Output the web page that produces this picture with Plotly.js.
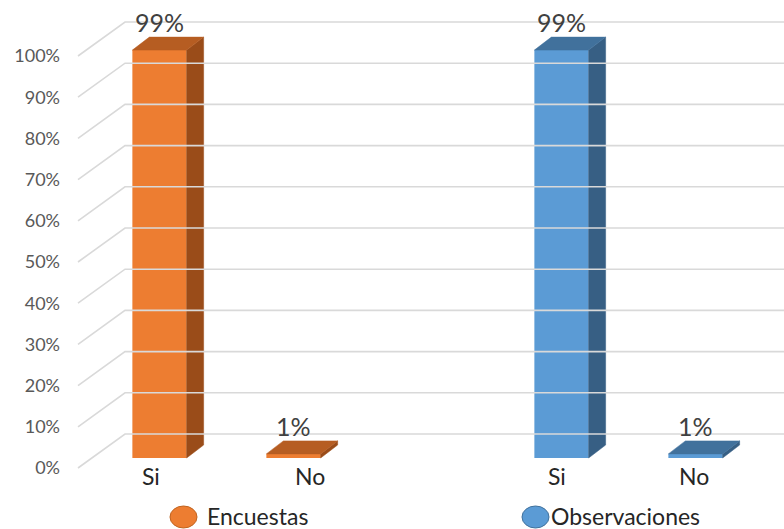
<!DOCTYPE html>
<html>
<head>
<meta charset="utf-8">
<script src="https://cdn.plot.ly/plotly-3.0.1.min.js"></script>
<style>
  html, body { margin: 0; padding: 0; background: #ffffff; }
  #chart { width: 784px; height: 529px; }
</style>
</head>
<body>
<div id="chart"></div>
<script>
// Data
const categories = ['Si', 'No'];
const seriesNames = ['Encuestas', 'Observaciones'];
const encuestas = [99, 1];
const observaciones = [99, 1];
const yTicks = [0, 10, 20, 30, 40, 50, 60, 70, 80, 90, 100];
const yTickLabels = yTicks.map(v => v + '%');

const seriesValues = [encuestas, observaciones];
const frontColors = ['#ED7D31', '#5B9BD5'];
const topColors = ['#B65D22', '#41719C'];
const sideColors = ['#9A4C19', '#375F84'];
const outlineColors = ['#C0631F', '#41719C'];

// Scales: pixels per x unit and per percentage point
const W = 784, H = 529;
const PX_X = 134, PX_Y = 4.12;
const X0_PX = 159.5, BASE_PX = 458;
const xRange = [-X0_PX / PX_X, (W - X0_PX) / PX_X];
const yRange = [(BASE_PX - H) / PX_Y, BASE_PX / PX_Y];
// the floor's front edge lies a little below the bars' front faces
const FLOOR_SHIFT = 10 / PX_Y;
const y2Range = [yRange[0] + FLOOR_SHIFT, yRange[1] + FLOOR_SHIFT];

// 3D depth offsets
const BAR_W = 0.405;
const BAR_DX = 17 / PX_X, BAR_DY = 13 / PX_Y;
const WALL_X_FRONT = (78 - X0_PX) / PX_X;
const WALL_DX = 47 / PX_X, WALL_DY = 34 / PX_Y;
const GROUP_GAP = 3;
// horizontal nudge of each category label, per group
const labelShift = [[-0.06, 0.12], [-0.035, -0.01]];

const FONT = 'Lato, "Open Sans", sans-serif';

const traces = [];

// side wall diagonals and back wall gridlines
const gx = [], gy = [];
yTicks.forEach(v => {
  gx.push(WALL_X_FRONT, WALL_X_FRONT + WALL_DX, xRange[1], null);
  gy.push(v, v + WALL_DY, v + WALL_DY, null);
});
traces.push({
  type: 'scatter', mode: 'lines', x: gx, y: gy, yaxis: 'y2',
  line: { color: '#D9D9D9', width: 1.6 },
  hoverinfo: 'skip', showlegend: false
});

const annotations = [];

seriesValues.forEach((vals, g) => {
  const xs = categories.map((c, i) => g * GROUP_GAP + i);

  // front faces
  traces.push({
    type: 'bar', x: xs, y: vals, width: BAR_W, name: seriesNames[g],
    marker: { color: frontColors[g], line: { width: 0 } },
    hoverinfo: 'skip', showlegend: false
  });

  xs.forEach((xc, i) => {
    const v = vals[i];
    const xl = xc - BAR_W / 2, xr = xc + BAR_W / 2;
    // right side face
    traces.push({
      type: 'scatter', mode: 'lines', fill: 'toself',
      x: [xr, xr, xr + BAR_DX, xr + BAR_DX, xr],
      y: [0, v, v + BAR_DY, BAR_DY, 0],
      fillcolor: sideColors[g], line: { color: sideColors[g], width: 0.5 },
      hoverinfo: 'skip', showlegend: false
    });
    // top face
    traces.push({
      type: 'scatter', mode: 'lines', fill: 'toself',
      x: [xl, xr, xr + BAR_DX, xl + BAR_DX, xl],
      y: [v, v, v + BAR_DY, v + BAR_DY, v],
      fillcolor: topColors[g], line: { color: topColors[g], width: 0.5 },
      hoverinfo: 'skip', showlegend: false
    });

    // value label
    annotations.push({
      x: xc, y: v + BAR_DY, xref: 'x', yref: 'y',
      text: v + '%', showarrow: false, yanchor: 'bottom', yshift: -2,
      font: { family: FONT, size: 25, color: '#404040' }
    });
    // category label
    annotations.push({
      x: xc + labelShift[g][i], y: 0, xref: 'x', yref: 'y',
      text: categories[i], showarrow: false, yanchor: 'top', yshift: -2,
      font: { family: FONT, size: 23, color: '#262626' }
    });
  });
});

// legend entries
const legendX = [170, 522];
const legendTextX = [205, 549];
const shapes = [];
seriesNames.forEach((name, g) => {
  shapes.push({
    type: 'circle', xref: 'paper', yref: 'paper',
    x0: legendX[g] / W, x1: (legendX[g] + 27) / W,
    y0: 1 - 528 / H, y1: 1 - 506 / H,
    fillcolor: frontColors[g], line: { color: outlineColors[g], width: 1 }
  });
  annotations.push({
    x: legendTextX[g] / W, y: 1 - 516 / H,
    xref: 'paper', yref: 'paper', xanchor: 'left', yanchor: 'middle',
    text: name, showarrow: false,
    font: { family: FONT, size: 23, color: '#262626' }
  });
});

const layout = {
  width: W, height: H,
  margin: { l: 0, r: 0, t: 0, b: 0, pad: 0 },
  paper_bgcolor: '#ffffff', plot_bgcolor: 'rgba(0,0,0,0)',
  showlegend: false,
  xaxis: { range: xRange, visible: false, fixedrange: true },
  yaxis: { range: yRange, visible: false, fixedrange: true },
  yaxis2: {
    range: y2Range, overlaying: 'y', anchor: 'free', side: 'left',
    position: 60 / W, tickvals: yTicks, ticktext: yTickLabels,
    showgrid: false, zeroline: false, showline: false, ticks: '',
    tickfont: { family: FONT, size: 18, color: '#595959' }, fixedrange: true
  },
  annotations: annotations,
  shapes: shapes
};

Plotly.newPlot('chart', traces, layout, { displayModeBar: false, staticPlot: true });
</script>
</body>
</html>
